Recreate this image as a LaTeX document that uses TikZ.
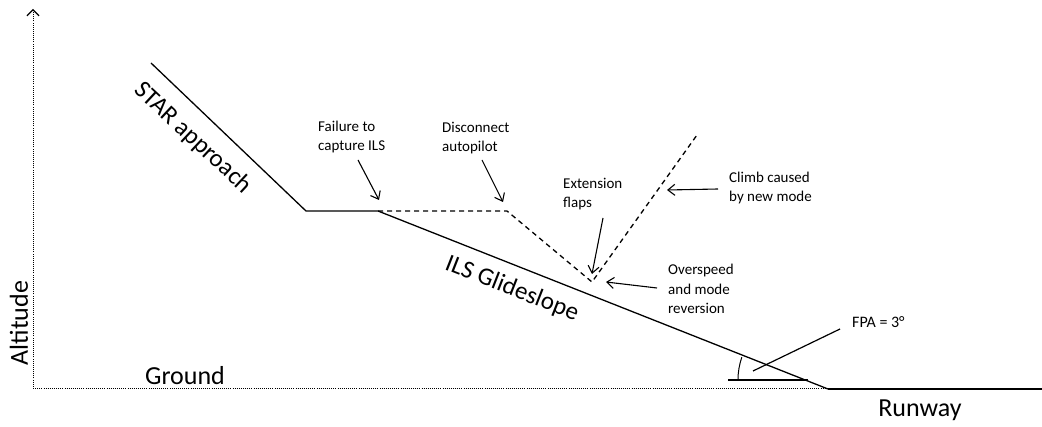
\documentclass[tikz,border=0pt]{standalone}
\usepackage{fontspec}
\setmainfont{Carlito}
\usetikzlibrary{arrows.meta}
\begin{document}
\begin{tikzpicture}[x=1pt,y=-1pt,
  path/.style={line width=1.3pt},
  dashpath/.style={line width=1.3pt, dash pattern=on 5pt off 4pt},
  axis/.style={line width=1pt, dash pattern=on 1pt off 1.1pt},
  note/.style={font=\fontsize{15}{19.5}\selectfont, align=left, anchor=west, inner sep=0pt},
  big/.style={font=\fontsize{26}{30}\selectfont, inner sep=0pt},
  pointer/.style={line width=1.1pt, -{Straight Barb[length=7pt,width=11pt,line width=1.1pt]}}
]
\useasboundingbox (0,0) rectangle (1042,427);

% axes
\coordinate (O) at (33,389);
\coordinate (ytop) at (33,9);
\coordinate (td) at (828,389);
\coordinate (rwyend) at (1042,389);
\draw[axis, -{Straight Barb[length=6pt,width=12pt,line width=1.2pt]}] (O) -- (ytop);
\draw[axis] (O) -- (td);
\draw[path] (td) -- (rwyend);

% nominal profile
\coordinate (starTop) at (151,63);
\coordinate (levelStart) at (306,211);
\coordinate (capture) at (378,211);
\coordinate (disc) at (507,211);
\coordinate (low) at (592,282);
\coordinate (climbTop) at (697,135);
\draw[path] (starTop) -- (levelStart) -- (capture) -- (td);

% actual flight path
\draw[dashpath] (capture) -- (disc) -- (low) -- (climbTop);

% flight path angle
\coordinate (refL) at (728,380);
\coordinate (refR) at (808,380);
\draw[line width=1.2pt] (refL) -- (refR);
\draw[line width=1pt] (738,380) arc[start angle=180, end angle=199, radius=70];

% labels
\node[big, rotate=90] (alt) at (19,323) {Altitude};
\node[big] (ground) at (185,376) {Ground};
\node[big] (runway) at (920,410) {Runway};
\node[font=\fontsize{25}{30}\selectfont, inner sep=0pt, rotate=-43] (star) at (193,138) {STAR approach};
\node[font=\fontsize{25}{30}\selectfont, inner sep=0pt, rotate=-21.5] (ils) at (512,289) {ILS Glideslope};

\node[note] (fail) at (318,137) {Failure to\\capture ILS};
\node[note] (dap) at (442,138) {Disconnect\\autopilot};
\node[note] (flaps) at (563,194) {Extension\\flaps};
\node[note] (climb) at (729,188) {Climb caused\\by new mode};
\node[note] (over) at (668,289) {Overspeed\\and mode\\reversion};
\node[note, font=\fontsize{16}{19}\selectfont] (fpa) at (852,322) {FPA = 3°};

% pointers
\coordinate (failTail) at (358,160);
\coordinate (failTip) at (379,200);
\coordinate (dapTail) at (482,160);
\coordinate (dapTip) at (503,202);
\coordinate (flapsTail) at (603,218);
\coordinate (flapsTip) at (592,274);
\coordinate (overTail) at (657,288);
\coordinate (overTip) at (606,282);
\coordinate (climbTail) at (718,189);
\coordinate (climbTip) at (667,190);
\coordinate (fpaTail) at (840,329);
\coordinate (fpaTip) at (753,371);
\draw[pointer] (failTail) -- (failTip);
\draw[pointer] (dapTail) -- (dapTip);
\draw[pointer] (flapsTail) -- (flapsTip);
\draw[pointer] (overTail) -- (overTip);
\draw[pointer] (climbTail) -- (climbTip);
\draw[line width=1.2pt] (fpaTail) -- (fpaTip);
\end{tikzpicture}
\end{document}
